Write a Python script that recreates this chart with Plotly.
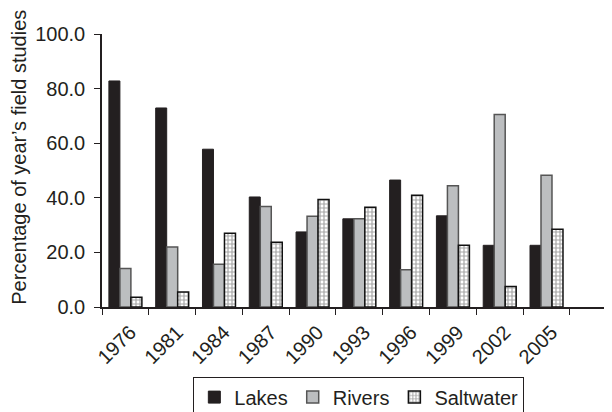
import plotly.graph_objects as go

years = ["1976", "1981", "1984", "1987", "1990", "1993", "1996", "1999", "2002", "2005"]
lakes = [82.8, 72.9, 57.8, 40.3, 27.5, 32.3, 46.5, 33.4, 22.6, 22.6]
rivers = [14.1, 22.0, 15.7, 36.8, 33.2, 32.3, 13.6, 44.4, 70.5, 48.3]
saltwater = [3.6, 5.5, 27.0, 23.7, 39.4, 36.5, 40.9, 22.6, 7.5, 28.5]
yticks = [0, 20, 40, 60, 80, 100]

FONT = "Liberation Sans, Arial, sans-serif"
FS = 20

fig = go.Figure()
fig.add_trace(go.Bar(
    x=years, y=lakes, name="Lakes",
    marker=dict(color="#231f20", line=dict(color="#231f20", width=1)),
))
fig.add_trace(go.Bar(
    x=years, y=rivers, name="Rivers",
    marker=dict(color="#bcbec0", line=dict(color="#555555", width=1.5)),
))
fig.add_trace(go.Bar(
    x=years, y=saltwater, name="Saltwater",
    marker=dict(color="white", line=dict(color="#111111", width=1.5),
                pattern=dict(shape="+", fgcolor="#4a4a4a", bgcolor="white",
                             size=4, solidity=0.5)),
))

# page body has an 8px default margin; compensate so the picture lines up
fig.update_layout(
    width=604, height=404,
    margin=dict(l=93.7, r=0, t=25.6, b=104.7, autoexpand=False),
    paper_bgcolor="white", plot_bgcolor="white",
    barmode="group", bargap=0.295, bargroupgap=0,
    font=dict(family=FONT, size=FS, color="#231f20"),
    showlegend=True,
    legend=dict(orientation="h", x=0.5036, xanchor="center", y=-0.255, yanchor="top",
                bordercolor="#231f20", borderwidth=1, font=dict(size=FS),
                itemwidth=30, tracegroupgap=0),
    annotations=[dict(text="Percentage of year\u2019s field studies", textangle=-90,
                      xref="paper", yref="paper", x=-0.163, y=0.55,
                      xanchor="center", yanchor="middle", showarrow=False,
                      font=dict(size=FS, family=FONT, color="#231f20"))],
)
fig.update_xaxes(
    type="category", range=[-0.5, 10.4], automargin=False,
    showline=True, linecolor="#231f20", linewidth=1.5,
    ticks="outside", tickson="boundaries", ticklen=6, tickcolor="#231f20",
    tickangle=-45, showgrid=False, tickfont=dict(size=FS),
    ticklabelstandoff=4, ticklabelshift=5,
)
fig.update_yaxes(
    range=[0, 100], tickvals=yticks, tickformat=".1f", automargin=False,
    showline=True, linecolor="#231f20", linewidth=1.5,
    ticks="outside", ticklen=6, tickcolor="#231f20",
    showgrid=False, zeroline=False, tickfont=dict(size=FS),
    ticklabelstandoff=5,
)

fig.write_html("out.html")
